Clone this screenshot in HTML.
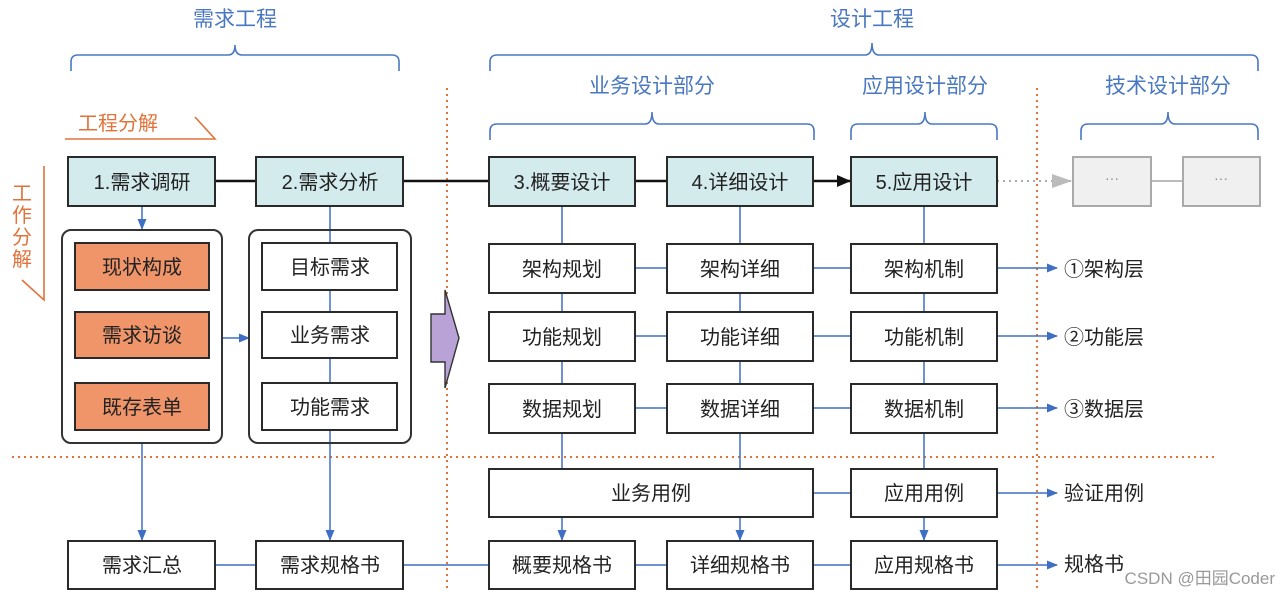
<!DOCTYPE html>
<html><head><meta charset="utf-8"><style>
html,body{margin:0;padding:0;background:#fff;}
svg{display:block;}
text{font-family:"Liberation Sans","Noto Sans CJK SC",sans-serif;}
</style></head><body>
<svg width="1280" height="599" viewBox="0 0 1280 599" xmlns="http://www.w3.org/2000/svg">
<defs>
<marker id="ab" markerWidth="11" markerHeight="10" refX="10" refY="5" orient="auto" markerUnits="userSpaceOnUse"><path d="M0,0.5 L11,5 L0,9.5 z" fill="#3f6fc4"/></marker>
<marker id="ak" markerWidth="14" markerHeight="12" refX="13" refY="6" orient="auto" markerUnits="userSpaceOnUse"><path d="M0,0 L14,6 L0,12 z" fill="#111"/></marker>
<marker id="ag" markerWidth="20" markerHeight="14" refX="19" refY="7" orient="auto" markerUnits="userSpaceOnUse"><path d="M0,0 L20,7 L0,14 z" fill="#bbb"/></marker>
</defs>
<g fill="#4a78c0" font-size="21" text-anchor="middle">
<text x="235" y="26">需求工程</text>
<text x="872" y="26">设计工程</text>
<text x="652" y="93">业务设计部分</text>
<text x="925" y="93">应用设计部分</text>
<text x="1168" y="93">技术设计部分</text>
</g>
<g fill="none" stroke="#4a78c0" stroke-width="1.6">
<path d="M71,71 V62 Q71,55 78,55 H228 Q235,55 235,45 Q235,55 242,55 H392 Q399,55 399,62 V71"/>
<path d="M490,71 V62 Q490,55 497,55 H865 Q872,55 872,43 Q872,55 879,55 H1251 Q1258,55 1258,62 V71"/>
<path d="M490,140 V131 Q490,124 497,124 H645 Q652,124 652,112 Q652,124 659,124 H807 Q814,124 814,131 V140"/>
<path d="M851,140 V131 Q851,124 858,124 H918 Q925,124 925,112 Q925,124 932,124 H990 Q997,124 997,131 V140"/>
<path d="M1081,140 V131 Q1081,124 1088,124 H1161 Q1168,124 1168,112 Q1168,124 1175,124 H1251 Q1258,124 1258,131 V140"/>
</g>
<g fill="#e0733a" font-size="20">
<text x="78" y="130">工程分解</text>
<text x="12" y="200">工</text>
<text x="12" y="222">作</text>
<text x="12" y="244">分</text>
<text x="12" y="266">解</text>
</g>
<g fill="none" stroke="#e0733a" stroke-width="1.6">
<path d="M65,139 H215 L195,117"/>
<path d="M44,166 V300 L22,280"/>
</g>
<g stroke="#e0733a" stroke-width="2" stroke-dasharray="2,4" fill="none">
<line x1="447" y1="88" x2="447" y2="592"/>
<line x1="1037" y1="88" x2="1037" y2="592"/>
<line x1="12" y1="457" x2="1215" y2="457"/>
</g>
<g stroke="#3f6fc4" stroke-width="1.5" fill="none">
<line x1="142" y1="206" x2="142" y2="229" marker-end="url(#ab)"/>
<line x1="330" y1="206" x2="330" y2="243"/>
<line x1="330" y1="290" x2="330" y2="312"/><line x1="330" y1="358" x2="330" y2="383"/>
<line x1="222" y1="338" x2="249" y2="338" marker-end="url(#ab)"/>
<line x1="142" y1="443" x2="142" y2="540" marker-end="url(#ab)"/>
<line x1="330" y1="430" x2="330" y2="540" marker-end="url(#ab)"/>
<line x1="215" y1="565" x2="256" y2="565"/>
<line x1="403" y1="565" x2="489" y2="565"/>
<line x1="635" y1="565" x2="667" y2="565"/>
<line x1="813" y1="565" x2="851" y2="565"/>
<line x1="997" y1="565" x2="1057" y2="565" marker-end="url(#ab)"/>
<line x1="813" y1="493" x2="851" y2="493"/>
<line x1="997" y1="493" x2="1057" y2="493" marker-end="url(#ab)"/>
<line x1="562" y1="206" x2="562" y2="469"/><line x1="740" y1="206" x2="740" y2="469"/><line x1="924" y1="206" x2="924" y2="469"/>
<line x1="562" y1="517" x2="562" y2="540" marker-end="url(#ab)"/>
<line x1="740" y1="517" x2="740" y2="540" marker-end="url(#ab)"/>
<line x1="924" y1="517" x2="924" y2="540" marker-end="url(#ab)"/>
<line x1="635" y1="268" x2="851" y2="268"/><line x1="635" y1="336" x2="851" y2="336"/><line x1="635" y1="408" x2="851" y2="408"/>
<line x1="997" y1="268" x2="1057" y2="268" marker-end="url(#ab)"/>
<line x1="997" y1="336" x2="1057" y2="336" marker-end="url(#ab)"/>
<line x1="997" y1="408" x2="1057" y2="408" marker-end="url(#ab)"/>
</g>
<g stroke="#111" stroke-width="2.5" fill="none">
<line x1="215" y1="181" x2="256" y2="181"/>
<line x1="403" y1="181" x2="489" y2="181"/>
<line x1="635" y1="181" x2="667" y2="181"/>
<line x1="813" y1="181" x2="850" y2="181" marker-end="url(#ak)"/>
</g>
<line x1="997" y1="181" x2="1071" y2="181" stroke="#aaa" stroke-width="2" stroke-dasharray="2,4" marker-end="url(#ag)"/>
<line x1="1151" y1="181" x2="1183" y2="181" stroke="#bbb" stroke-width="2"/>
<rect x="62" y="230" width="160" height="213" rx="9" fill="none" stroke="#333" stroke-width="2"/>
<rect x="249" y="230" width="162" height="213" rx="9" fill="none" stroke="#333" stroke-width="2"/>
<path d="M431,314 H445 V290 L459,338 L445,388 V362 H431 z" fill="#b9a3d6" stroke="#333" stroke-width="1.4"/>
<g stroke="#2a2a2a" stroke-width="2">
<g fill="#d4ebee">
<rect x="68" y="157" width="147" height="49"/><rect x="256" y="157" width="147" height="49"/>
<rect x="489" y="157" width="146" height="49"/><rect x="667" y="157" width="146" height="49"/><rect x="851" y="157" width="146" height="49"/>
</g>
<g fill="#f0f0f0" stroke="#aaa">
<rect x="1073" y="157" width="78" height="49"/><rect x="1183" y="157" width="77" height="49"/>
</g>
<g fill="#f0956a">
<rect x="75" y="243" width="134" height="47"/><rect x="75" y="312" width="134" height="46"/><rect x="75" y="383" width="134" height="47"/>
</g>
<g fill="#fff">
<rect x="262" y="243" width="135" height="47"/><rect x="262" y="312" width="135" height="46"/><rect x="262" y="383" width="135" height="47"/>
<rect x="489" y="244" width="146" height="49"/><rect x="667" y="244" width="146" height="49"/><rect x="851" y="244" width="146" height="49"/>
<rect x="489" y="312" width="146" height="49"/><rect x="667" y="312" width="146" height="49"/><rect x="851" y="312" width="146" height="49"/>
<rect x="489" y="384" width="146" height="49"/><rect x="667" y="384" width="146" height="49"/><rect x="851" y="384" width="146" height="49"/>
<rect x="489" y="469" width="324" height="48"/><rect x="851" y="469" width="146" height="48"/>
<rect x="68" y="541" width="147" height="48"/><rect x="256" y="541" width="147" height="48"/>
<rect x="489" y="541" width="146" height="48"/><rect x="667" y="541" width="146" height="48"/><rect x="851" y="541" width="146" height="48"/>
</g>
</g>
<g fill="#222" font-size="20" text-anchor="middle">
<text x="142" y="189">1.需求调研</text><text x="330" y="189">2.需求分析</text>
<text x="562" y="189">3.概要设计</text><text x="740" y="189">4.详细设计</text><text x="924" y="189">5.应用设计</text>
<text x="142" y="274">现状构成</text><text x="142" y="342">需求访谈</text><text x="142" y="414">既存表单</text>
<text x="330" y="274">目标需求</text><text x="330" y="342">业务需求</text><text x="330" y="414">功能需求</text>
<text x="562" y="276">架构规划</text><text x="740" y="276">架构详细</text><text x="924" y="276">架构机制</text>
<text x="562" y="344">功能规划</text><text x="740" y="344">功能详细</text><text x="924" y="344">功能机制</text>
<text x="562" y="416">数据规划</text><text x="740" y="416">数据详细</text><text x="924" y="416">数据机制</text>
<text x="651" y="500">业务用例</text><text x="924" y="500">应用用例</text>
<text x="142" y="572">需求汇总</text><text x="330" y="572">需求规格书</text>
<text x="562" y="572">概要规格书</text><text x="740" y="572">详细规格书</text><text x="924" y="572">应用规格书</text>
</g>
<g fill="#888" font-size="14" text-anchor="middle"><text x="1112" y="183">···</text><text x="1221" y="183">···</text></g>
<g fill="#222" font-size="20">
<text x="1064" y="276">①架构层</text><text x="1064" y="344">②功能层</text><text x="1064" y="416">③数据层</text>
<text x="1064" y="500">验证用例</text><text x="1064" y="571">规格书</text>
</g>
<text x="1275" y="584" fill="#999" font-size="17" text-anchor="end">CSDN @田园Coder</text>
</svg>
</body></html>
